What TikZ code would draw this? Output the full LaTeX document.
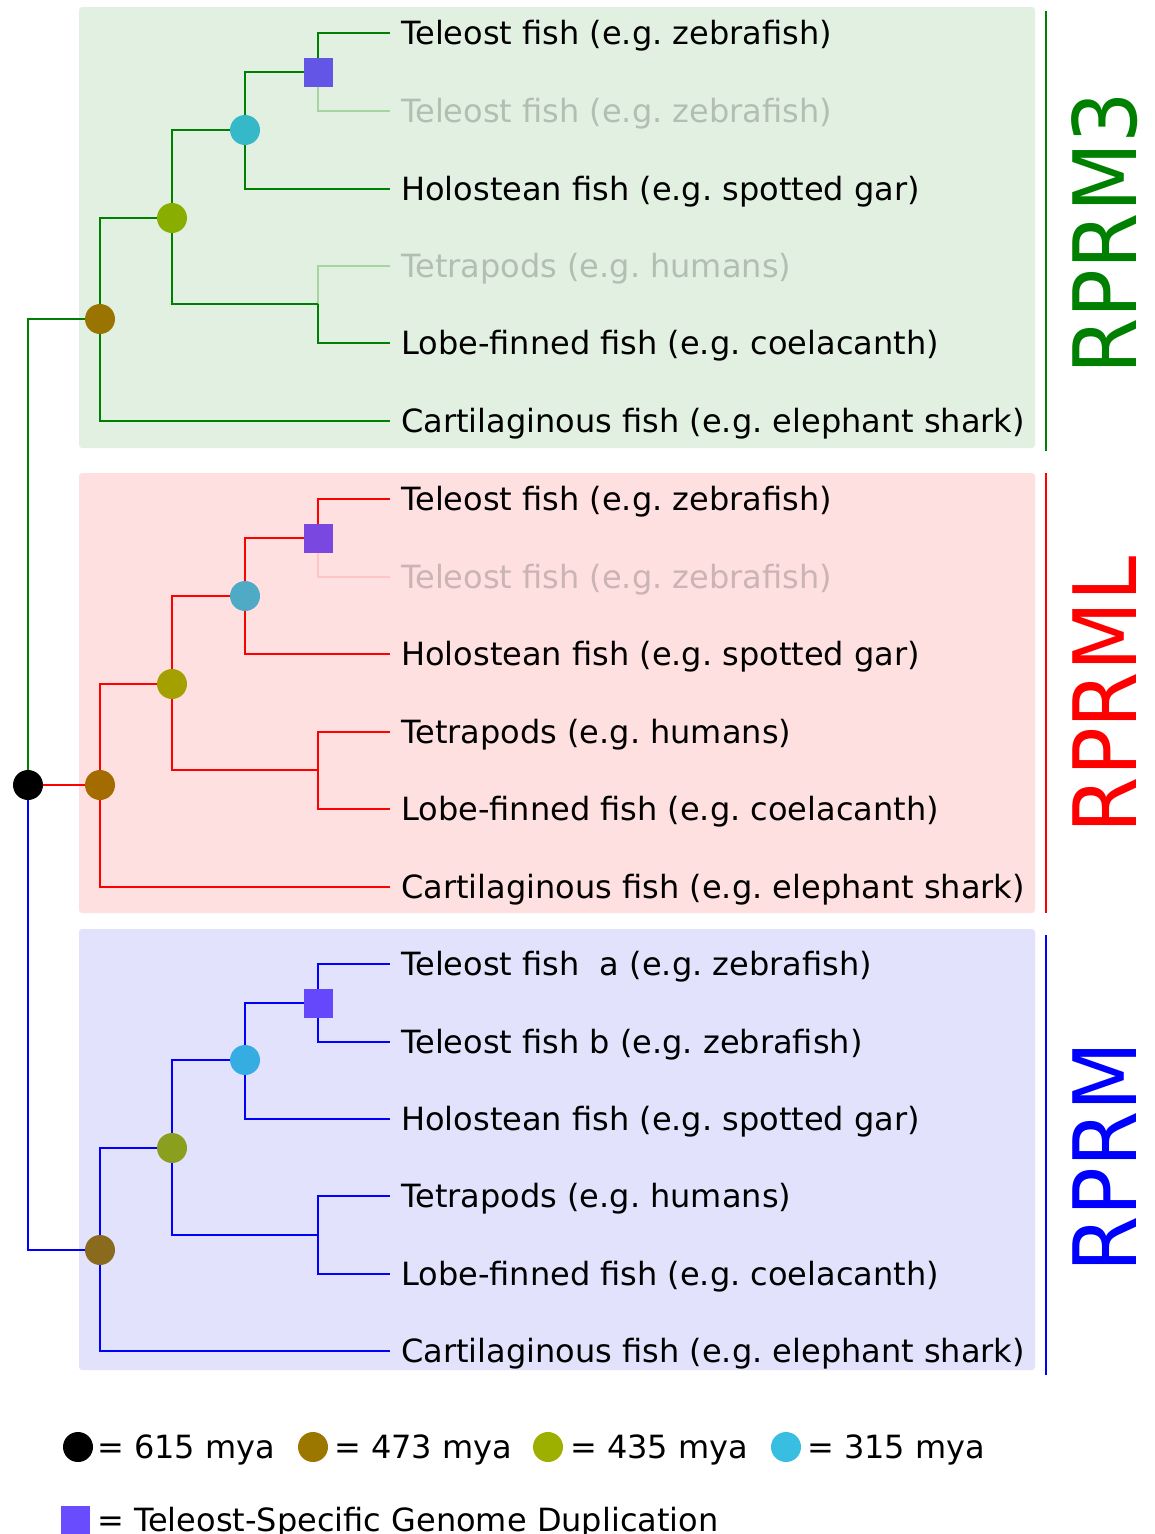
\documentclass[tikz,border=0pt]{standalone}
\usepackage{fontspec}
\setmainfont{DejaVu Sans}
\frenchspacing
\pgfdeclarelayer{back}
\pgfdeclarelayer{edges}
\pgfsetlayers{back,edges,main}
\definecolor{gline}{HTML}{008000}
\definecolor{rline}{HTML}{FF0000}
\definecolor{bline}{HTML}{0000FF}
\definecolor{gbg}{HTML}{E2F0E2}
\definecolor{rbg}{HTML}{FFE0E0}
\definecolor{bbg}{HTML}{E2E2FC}
\definecolor{gfade}{HTML}{A8D4A0}
\definecolor{rfade}{HTML}{FFC4C4}
\definecolor{gfadetext}{HTML}{B2BEB2}
\definecolor{rfadetext}{HTML}{CBB4B4}
\definecolor{gbrown}{HTML}{9A7400}
\definecolor{golive}{HTML}{8AAE00}
\definecolor{gcyan}{HTML}{35B8C8}
\definecolor{gsq}{HTML}{6355E6}
\definecolor{rbrown}{HTML}{A36B00}
\definecolor{rolive}{HTML}{A3A000}
\definecolor{rcyan}{HTML}{4FAAC6}
\definecolor{rsq}{HTML}{7A48E0}
\definecolor{bbrown}{HTML}{8A6B1E}
\definecolor{bolive}{HTML}{8A9F1D}
\definecolor{bcyan}{HTML}{35ADE3}
\definecolor{bsq}{HTML}{6548FC}
\definecolor{lbrown}{HTML}{9B7700}
\definecolor{lolive}{HTML}{9DB000}
\definecolor{lcyan}{HTML}{38BEE0}
\definecolor{lsq}{HTML}{6A4CFF}
\newcommand\leaffont{\fontsize{32}{36}\selectfont}
\newcommand\genefont{\fontsize{81}{81}\selectfont}
\tikzset{
  dot/.style={circle, minimum size=30pt, inner sep=0pt, draw=none},
  dup/.style={rectangle, minimum size=29pt, inner sep=0pt, draw=none},
  leaf/.style={anchor=base west, inner sep=0pt, font=\leaffont},
  edge/.style={line width=2.7pt},
  panel/.style={rounded corners=3pt, draw=none},
  bar/.style={line width=2.7pt},
  gene/.style={rotate=90, inner sep=0pt, font=\genefont},
}
\begin{document}
\begin{tikzpicture}[x=1pt, y=-1pt]
\useasboundingbox (0,0) rectangle (1155,1534);

% ---------------- backgrounds
\begin{pgfonlayer}{back}
  \fill[gbg, panel] (79,7) rectangle (1035,448);
  \fill[rbg, panel] (79,473) rectangle (1035,913);
  \fill[bbg, panel] (79,929) rectangle (1035,1370);
\end{pgfonlayer}

% side bars
\coordinate (gbt) at (1046,11);   \coordinate (gbb) at (1046,451);
\coordinate (rbt) at (1046,473);  \coordinate (rbb) at (1046,913);
\coordinate (bbt) at (1046,935);  \coordinate (bbb) at (1046,1375);
\draw[bar, gline] (gbt) -- (gbb);
\draw[bar, rline] (rbt) -- (rbb);
\draw[bar, bline] (bbt) -- (bbb);
\node[gene, text=gline] (lg) at (1105,233) {\scalebox{1}[1.08]{RPRM3}};
\node[gene, text=rline] (lr) at (1105,695) {\scalebox{1}[1.08]{RPRML}};
\node[gene, text=bline] (lb) at (1105,1157) {\scalebox{1}[1.08]{RPRM}};

% ---------------- RPRM3 panel (green)
\node[dot, fill=gbrown] (gB) at (100,319) {};
\node[dot, fill=golive] (gO) at (172,218) {};
\node[dot, fill=gcyan] (gC) at (245,130) {};
\node[dup, fill=gsq] (gS) at (318,72) {};
\coordinate (gJ) at (318,304);
\coordinate (gL1) at (390,33);
\coordinate (gL2) at (390,111);
\coordinate (gL3) at (390,189);
\coordinate (gL4) at (390,266);
\coordinate (gL5) at (390,343);
\coordinate (gL6) at (390,421);
\node[leaf] (gT1) at (401,44) {Teleost fish (e.g. zebrafish)};
\node[leaf, text=gfadetext] (gT2) at (401,122) {Teleost fish (e.g. zebrafish)};
\node[leaf] (gT3) at (401,200) {Holostean fish (e.g. spotted gar)};
\node[leaf, text=gfadetext] (gT4) at (401,277) {Tetrapods (e.g. humans)};
\node[leaf] (gT5) at (401,354) {Lobe-finned fish (e.g. coelacanth)};
\node[leaf] (gT6) at (401,432) {Cartilaginous fish (e.g. elephant shark)};
\begin{pgfonlayer}{edges}
  \draw[edge, gfade] (gS.center) |- (gL2);
  \draw[edge, gfade] (gJ) |- (gL4);
  \draw[edge, gline] (gB.center) |- (gO.center);
  \draw[edge, gline] (gB.center) |- (gL6);
  \draw[edge, gline] (gO.center) |- (gC.center);
  \draw[edge, gline] (gO.center) |- (gJ);
  \draw[edge, gline] (gC.center) |- (gS.center);
  \draw[edge, gline] (gC.center) |- (gL3);
  \draw[edge, gline] (gS.center) |- (gL1);
  \draw[edge, gline] (gJ) |- (gL5);
\end{pgfonlayer}

% ---------------- RPRML panel (red)
\node[dot, fill=rbrown] (rB) at (100,785) {};
\node[dot, fill=rolive] (rO) at (172,684) {};
\node[dot, fill=rcyan] (rC) at (245,596) {};
\node[dup, fill=rsq] (rS) at (318,538) {};
\coordinate (rJ) at (318,770);
\coordinate (rL1) at (390,499);
\coordinate (rL2) at (390,577);
\coordinate (rL3) at (390,654);
\coordinate (rL4) at (390,732);
\coordinate (rL5) at (390,809);
\coordinate (rL6) at (390,887);
\node[leaf] (rT1) at (401,510) {Teleost fish (e.g. zebrafish)};
\node[leaf, text=rfadetext] (rT2) at (401,588) {Teleost fish (e.g. zebrafish)};
\node[leaf] (rT3) at (401,665) {Holostean fish (e.g. spotted gar)};
\node[leaf] (rT4) at (401,743) {Tetrapods (e.g. humans)};
\node[leaf] (rT5) at (401,820) {Lobe-finned fish (e.g. coelacanth)};
\node[leaf] (rT6) at (401,898) {Cartilaginous fish (e.g. elephant shark)};
\begin{pgfonlayer}{edges}
  \draw[edge, rfade] (rS.center) |- (rL2);
  \draw[edge, rline] (rB.center) |- (rO.center);
  \draw[edge, rline] (rB.center) |- (rL6);
  \draw[edge, rline] (rO.center) |- (rC.center);
  \draw[edge, rline] (rO.center) |- (rJ);
  \draw[edge, rline] (rC.center) |- (rS.center);
  \draw[edge, rline] (rC.center) |- (rL3);
  \draw[edge, rline] (rS.center) |- (rL1);
  \draw[edge, rline] (rJ) |- (rL4);
  \draw[edge, rline] (rJ) |- (rL5);
\end{pgfonlayer}

% ---------------- RPRM panel (blue)
\node[dot, fill=bbrown] (bB) at (100,1250) {};
\node[dot, fill=bolive] (bO) at (172,1148) {};
\node[dot, fill=bcyan] (bC) at (245,1060) {};
\node[dup, fill=bsq] (bS) at (318,1003) {};
\coordinate (bJ) at (318,1235);
\coordinate (bL1) at (390,964);
\coordinate (bL2) at (390,1042);
\coordinate (bL3) at (390,1119);
\coordinate (bL4) at (390,1196);
\coordinate (bL5) at (390,1274);
\coordinate (bL6) at (390,1351);
\node[leaf] (bT1) at (401,975) {Teleost fish \ a (e.g. zebrafish)};
\node[leaf] (bT2) at (401,1053) {Teleost fish b (e.g. zebrafish)};
\node[leaf] (bT3) at (401,1130) {Holostean fish (e.g. spotted gar)};
\node[leaf] (bT4) at (401,1207) {Tetrapods (e.g. humans)};
\node[leaf] (bT5) at (401,1285) {Lobe-finned fish (e.g. coelacanth)};
\node[leaf] (bT6) at (401,1362) {Cartilaginous fish (e.g. elephant shark)};
\begin{pgfonlayer}{edges}
  \draw[edge, bline] (bB.center) |- (bO.center);
  \draw[edge, bline] (bB.center) |- (bL6);
  \draw[edge, bline] (bO.center) |- (bC.center);
  \draw[edge, bline] (bO.center) |- (bJ);
  \draw[edge, bline] (bC.center) |- (bS.center);
  \draw[edge, bline] (bC.center) |- (bL3);
  \draw[edge, bline] (bS.center) |- (bL1);
  \draw[edge, bline] (bS.center) |- (bL2);
  \draw[edge, bline] (bJ) |- (bL4);
  \draw[edge, bline] (bJ) |- (bL5);
\end{pgfonlayer}

% ---------------- root
\node[dot, fill=black] (root) at (28,785) {};
\begin{pgfonlayer}{edges}
  \draw[edge, gline] (root.center) |- (gB.center);
  \draw[edge, rline] (root.center) -- (rB.center);
  \draw[edge, bline] (root.center) |- (bB.center);
\end{pgfonlayer}

% ---------------- legend
\node[dot, fill=black] (k1) at (78,1447) {};
\node[leaf] (k1t) at (97,1458) {= 615 mya};
\node[dot, fill=lbrown] (k2) at (313,1447) {};
\node[leaf] (k2t) at (334,1458) {= 473 mya};
\node[dot, fill=lolive] (k3) at (548,1447) {};
\node[leaf] (k3t) at (570,1458) {= 435 mya};
\node[dot, fill=lcyan] (k4) at (786,1447) {};
\node[leaf] (k4t) at (807,1458) {= 315 mya};
\node[dup, fill=lsq] (k5) at (75,1520) {};
\node[leaf] (k5t) at (97,1531) {= Teleost-Specific Genome Duplication};
\end{tikzpicture}
\end{document}
